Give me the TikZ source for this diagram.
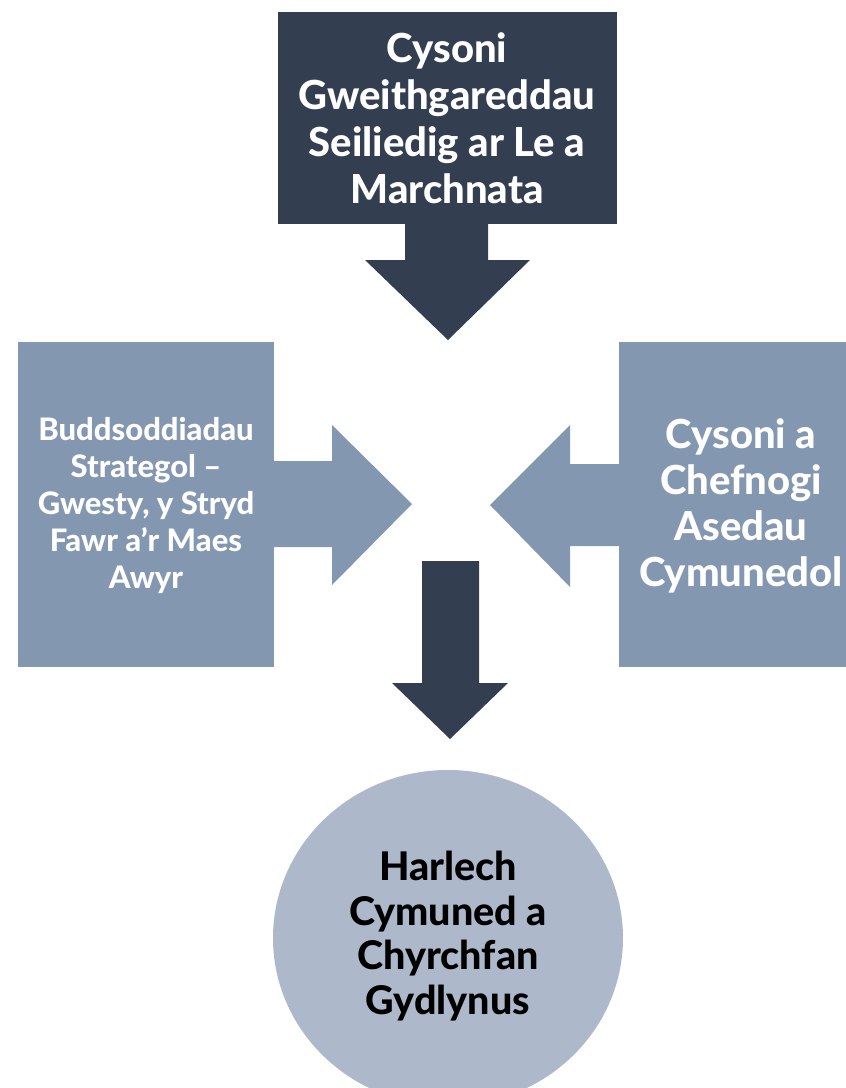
\documentclass[tikz,border=0pt]{standalone}
\usepackage{fontspec}
\setmainfont{Lato}
\IfFontExistsTF{Lato Heavy}{\newfontfamily\hv{Lato Heavy}}{%
  \IfFontExistsTF{Lato Black}{\newfontfamily\hv{Lato Black}}{\newfontfamily\hv{Lato}[UprightFont=*,UprightFeatures={FakeBold=1.2}]\let\oldhv\hv\renewcommand\hv{\oldhv\bfseries}}}
\definecolor{navy}{HTML}{333F50}
\definecolor{slate}{HTML}{8497B0}
\definecolor{pale}{HTML}{ADB9CA}
\begin{document}
\begin{tikzpicture}[x=1pt,y=-1pt,
  lbl/.style={align=center,inner sep=0pt},
  darrow/.style={fill=navy,draw=none},
  sarrow/.style={fill=slate,draw=none}]
\useasboundingbox (0,0) rectangle (846,1088);
\clip (0,0) rectangle (846,1088);
% boxes
\path[fill=navy] (278,12) rectangle (617,224);
\node[lbl,text=white,font=\hv\fontsize{40}{47}\selectfont] (top) at (447,118)
  {Cysoni\\Gweithgareddau\\Seiliedig ar Le a\\Marchnata};
\path[fill=slate] (18,342) rectangle (274,667);
\node[lbl,text=white,font=\hv\fontsize{31}{37}\selectfont] (left) at (146,506)
  {Buddsoddiadau\\Strategol –\\Gwesty, y Stryd\\Fawr a’r Maes\\Awyr};
\path[fill=slate] (619,342) rectangle (846,667);
\node[lbl,text=white,font=\hv\fontsize{40}{46}\selectfont] (right) at (741,506)
  {Cysoni a\\Chefnogi\\Asedau\\Cymunedol};
\path[fill=pale] (448,938) ellipse [x radius=175, y radius=168];
\node[lbl,text=black,font=\hv\fontsize{39.5}{44.7}\selectfont] (hub) at (448,936)
  {Harlech\\Cymuned a\\Chyrchfan\\Gydlynus};
% block arrows
\path[darrow] (405,223) -- (488,223) -- (488,260) -- (530,260) -- (448,340) -- (365,260) -- (405,260) -- cycle;
\path[sarrow] (273,461) -- (332,461) -- (332,425) -- (412,504) -- (332,585) -- (332,547) -- (273,547) -- cycle;
\path[sarrow] (620,464) -- (570,464) -- (570,425) -- (490,505) -- (570,587) -- (570,546) -- (620,546) -- cycle;
\path[darrow] (422,561) -- (479,561) -- (479,683) -- (508,683) -- (450,739) -- (392,683) -- (422,683) -- cycle;
\end{tikzpicture}
\end{document}
